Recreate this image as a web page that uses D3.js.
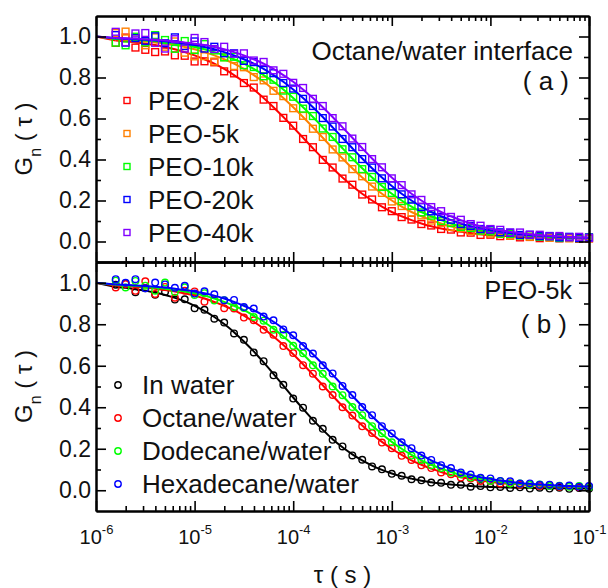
<!DOCTYPE html>
<html>
<head>
<meta charset="utf-8">
<script src="https://cdn.jsdelivr.net/npm/d3@7"></script>
<style>
  body { margin: 0; background: #fff; }
  svg { display: block; font-family: "Liberation Sans", Arial, sans-serif; }
</style>
</head>
<body>
<div id="main"></div>
<script>
// lag times, log10(tau / s)
const logTau = [-5.8, -5.7, -5.6, -5.5, -5.4, -5.3, -5.2, -5.1, -5.0, -4.9,
    -4.8, -4.7, -4.6, -4.5, -4.4, -4.3, -4.2, -4.1, -4.0, -3.9,
    -3.8, -3.7, -3.6, -3.5, -3.4, -3.3, -3.2, -3.1, -3.0, -2.9,
    -2.8, -2.7, -2.6, -2.5, -2.4, -2.3, -2.2, -2.1, -2.0, -1.9,
    -1.8, -1.7, -1.6, -1.5, -1.4, -1.3, -1.2, -1.1, -1.0];

const yTickLabels = ["0.0", "0.2", "0.4", "0.6", "0.8", "1.0"];
const xTickExps = [-6, -5, -4, -3, -2, -1];

// panel (a): octane/water interface
const peoLabels = ["PEO-2k", "PEO-5k", "PEO-10k", "PEO-20k", "PEO-40k"];

const peo2kData = [.969, .995, .946, .935, .924, .927, .908, .906, .878, .879,
    .874, .830, .820, .773, .751, .692, .661, .603, .565, .500,
    .460, .398, .361, .307, .277, .229, .205, .167, .148, .119,
    .107, .085, .078, .061, .058, .044, .043, .032, .033, .026,
    .028, .020, .022, .016, .020, .015, .019, .013, .016];
const peo2kFit = [.981, .977, .971, .965, .958, .949, .938, .924, .908, .889,
    .868, .842, .812, .779, .741, .700, .655, .607, .557, .506,
    .455, .405, .357, .312, .271, .233, .200, .170, .144, .123,
    .104, .088, .074, .063, .055, .047, .041, .035, .031, .028,
    .025, .022, .020, .019, .018, .017, .016, .015, .014];

const peo5kData = [1.017, 1.024, .991, .957, .996, .950, .976, .921, .903, .904,
    .878, .899, .856, .850, .802, .786, .735, .709, .650, .613,
    .550, .510, .449, .410, .353, .318, .268, .237, .195, .173,
    .141, .127, .102, .091, .071, .065, .051, .050, .039, .037,
    .028, .030, .023, .025, .018, .021, .015, .019, .014];
const peo5kFit = [.987, .984, .981, .977, .971, .965, .958, .949, .938, .924,
    .908, .889, .868, .842, .812, .779, .741, .700, .655, .607,
    .557, .506, .455, .405, .357, .312, .271, .233, .200, .170,
    .144, .123, .104, .088, .074, .063, .055, .047, .041, .035,
    .031, .028, .025, .022, .020, .019, .018, .017, .016];

const peo10kData = [.970, .957, .999, .971, 1.007, .983, .940, .978, .934, .963,
    .932, .898, .901, .860, .851, .806, .789, .736, .706, .648,
    .612, .551, .510, .450, .411, .353, .315, .266, .237, .197,
    .174, .142, .126, .100, .090, .071, .066, .053, .049, .038,
    .037, .029, .031, .023, .024, .017, .021, .016, .020];
const peo10kFit = [.990, .987, .984, .981, .977, .971, .965, .958, .949, .938,
    .924, .908, .889, .868, .842, .812, .779, .741, .700, .655,
    .607, .557, .506, .455, .405, .357, .312, .271, .233, .200,
    .170, .144, .123, .104, .088, .074, .063, .055, .047, .041,
    .035, .031, .028, .025, .022, .020, .019, .018, .017];

const peo20kData = [1.007, .970, .992, .979, 1.001, .967, .996, .953, .976, .941,
    .950, .918, .918, .881, .875, .837, .821, .773, .746, .696,
    .661, .602, .561, .500, .460, .402, .361, .308, .274, .230,
    .204, .168, .147, .120, .106, .085, .076, .061, .058, .045,
    .043, .032, .033, .026, .027, .020, .023, .017, .020];
const peo20kFit = [.992, .990, .987, .984, .981, .977, .971, .965, .958, .949,
    .938, .924, .908, .889, .868, .842, .812, .779, .741, .700,
    .655, .607, .557, .506, .455, .405, .357, .312, .271, .233,
    .200, .170, .144, .123, .104, .088, .074, .063, .055, .047,
    .041, .035, .031, .028, .025, .022, .020, .019, .018];

const peo40kData = [1.023, .972, 1.015, 1.017, .969, .941, .987, .941, .993, .973,
    .939, .950, .916, .918, .883, .876, .835, .818, .774, .749,
    .696, .661, .602, .562, .502, .461, .402, .362, .308, .275,
    .230, .203, .168, .148, .120, .106, .085, .077, .061, .057,
    .044, .044, .033, .033, .025, .027, .020, .023, .017];
const peo40kFit = [.993, .992, .990, .987, .984, .981, .977, .971, .965, .958,
    .949, .938, .924, .908, .889, .868, .842, .812, .779, .741,
    .700, .655, .607, .557, .506, .455, .405, .357, .312, .271,
    .233, .200, .170, .144, .123, .104, .088, .074, .063, .055,
    .047, .041, .035, .031, .028, .025, .022, .020, .019];

// panel (b): PEO-5k in different environments
const mediumLabels = ["In water", "Octane/water", "Dodecane/water", "Hexadecane/water"];

const waterData = [.990, .996, .954, .974, .942, .956, .919, .920, .877, .870,
    .827, .808, .756, .725, .664, .622, .554, .508, .442, .398,
    .335, .296, .243, .211, .168, .147, .115, .101, .079, .070,
    .053, .048, .037, .036, .026, .026, .017, .020, .014, .016,
    .011, .014, .008, .012, .008, .012, .007, .011, .007];
const waterFit = [.980, .976, .969, .962, .952, .941, .927, .910, .889, .864,
    .835, .801, .762, .717, .669, .616, .561, .504, .447, .392,
    .339, .291, .246, .207, .173, .144, .119, .098, .081, .067,
    .056, .046, .039, .033, .028, .024, .020, .018, .016, .014,
    .013, .012, .011, .010, .010, .010, .009, .009, .009];

const octaneData = [.977, .994, .961, 1.007, .946, .980, .928, .961, .958, .909,
    .918, .877, .876, .832, .819, .773, .749, .695, .661, .603,
    .562, .500, .459, .400, .360, .308, .276, .230, .203, .166,
    .146, .120, .107, .086, .077, .061, .057, .044, .043, .033,
    .034, .026, .027, .020, .023, .017, .020, .015, .018];
const octaneFit = peo5kFit;

const dodecaneData = [1.010, .977, 1.009, .986, .962, 1.001, .955, .978, .941, .950,
    .914, .916, .883, .878, .835, .817, .773, .748, .696, .660,
    .602, .561, .500, .458, .401, .362, .309, .275, .231, .203,
    .167, .146, .121, .107, .086, .077, .061, .057, .044, .043,
    .033, .033, .026, .028, .020, .022, .017, .021, .015];
const dodecaneFit = peo10kFit;

const hexadecaneData = [1.017, 1.000, 1.017, .974, 1.001, .992, .976, .985, .948, .959,
    .944, .916, .917, .883, .876, .837, .819, .775, .747, .695,
    .659, .602, .563, .503, .459, .401, .362, .309, .274, .231,
    .203, .167, .146, .121, .107, .086, .076, .060, .057, .045,
    .043, .032, .033, .026, .027, .020, .023, .017, .020];
const hexadecaneFit = peo20kFit;

const peoColors = ["#ff0000", "#ff8000", "#00ff00", "#0000ff", "#8000ff"];
const mediumColors = ["#000000", "#ff0000", "#00ff00", "#0000ff"];

class FcsChart {
    constructor({ width = 608, height = 588 } = {}) {
        this.w = width;
        this.h = height;
        this.x0 = 96;
        this.x1 = 589;
        this.panels = [{ top: 16, bottom: 262 }, { top: 262, bottom: 511 }];
        this.svg = null;
    }

    createSvg(selector) {
        this.svg = d3.select(selector)
            .append("svg")
            .attr("width", this.w)
            .attr("height", this.h);
        this.xScale = d3.scaleLog()
            .domain([1e-6, 1e-1])
            .range([this.x0, this.x1]);
        this.xMajor = xTickExps.map(e => Math.pow(10, e));
        this.xMinor = [];
        xTickExps.slice(0, -1).forEach(e => {
            for (let m = 2; m <= 9; m++) this.xMinor.push(m * Math.pow(10, e));
        });
        this.tau = logTau.map(l => Math.pow(10, l));
    }

    yScaleFor(p) {
        return d3.scaleLinear().domain([-0.1, 1.1]).range([p.bottom, p.top]);
    }

    drawFrame(p, y, isBottom) {
        const svg = this.svg;
        const yMajor = yTickLabels.map(Number);
        const yMinor = [0.1, 0.3, 0.5, 0.7, 0.9];
        const styleAxis = g => {
            g.selectAll("path.domain").attr("stroke-width", 2);
            g.selectAll(".tick line").attr("stroke-width", 1.6);
        };

        // left
        svg.append("g")
            .attr("transform", `translate(${this.x0},0)`)
            .call(d3.axisLeft(y).tickValues(yMajor).tickSize(-10).tickSizeOuter(0).tickPadding(5)
                .tickFormat((d, i) => yTickLabels[i]))
            .call(styleAxis)
            .selectAll("text").style("font-size", "23px").attr("fill", "#111");
        svg.append("g")
            .attr("transform", `translate(${this.x0},0)`)
            .call(d3.axisLeft(y).tickValues(yMinor).tickSize(-5).tickSizeOuter(0).tickFormat(""))
            .call(styleAxis);

        // right
        [yMajor, yMinor].forEach((vals, k) => {
            svg.append("g")
                .attr("transform", `translate(${this.x1},0)`)
                .call(d3.axisRight(y).tickValues(vals).tickSize(k ? -5 : -10).tickSizeOuter(0).tickFormat(""))
                .call(styleAxis);
        });

        // top
        [this.xMajor, this.xMinor].forEach((vals, k) => {
            svg.append("g")
                .attr("transform", `translate(0,${p.top})`)
                .call(d3.axisTop(this.xScale).tickValues(vals).tickSize(k ? -5 : -10).tickSizeOuter(0).tickFormat(""))
                .call(styleAxis);
        });

        // bottom
        svg.append("g")
            .attr("transform", `translate(0,${p.bottom})`)
            .call(d3.axisBottom(this.xScale).tickValues(this.xMinor).tickSize(-5).tickSizeOuter(0).tickFormat(""))
            .call(styleAxis);
        const xb = svg.append("g")
            .attr("transform", `translate(0,${p.bottom})`)
            .call(d3.axisBottom(this.xScale).tickValues(this.xMajor).tickSize(-10).tickSizeOuter(0).tickPadding(19))
            .call(styleAxis);
        if (isBottom) {
            xb.selectAll(".tick text").each(function (d, i) {
                const t = d3.select(this).text(null).style("font-size", "20px").attr("fill", "#111");
                t.append("tspan").text("10");
                t.append("tspan").attr("dy", -10).style("font-size", "13px").text(String(xTickExps[i]));
            });
        } else {
            xb.selectAll(".tick text").remove();
        }

        // y label
        const yl = svg.append("text")
            .attr("transform", `translate(32,${(p.top + p.bottom) / 2}) rotate(-90)`)
            .attr("text-anchor", "middle")
            .style("font-size", "24px")
            .attr("fill", "#111");
        yl.append("tspan").text("G");
        yl.append("tspan").attr("dy", 9).style("font-size", "16px").text("n");
        yl.append("tspan").attr("dy", -9).text(" ( \u03c4 )");
    }

    drawSeries(y, data, fit, color, shape) {
        const g = this.svg.append("g");
        const pts = data.map((v, i) => [this.xScale(this.tau[i]), y(v)]);
        if (shape === "square") {
            g.selectAll("rect")
                .data(pts)
                .join("rect")
                .attr("x", d => d[0] - 3.4)
                .attr("y", d => d[1] - 3.4)
                .attr("width", 6.8)
                .attr("height", 6.8)
                .attr("fill", "none")
                .attr("stroke", color)
                .attr("stroke-width", 1.4);
        } else {
            g.selectAll("circle")
                .data(pts)
                .join("circle")
                .attr("cx", d => d[0])
                .attr("cy", d => d[1])
                .attr("r", 3.3)
                .attr("fill", "none")
                .attr("stroke", color)
                .attr("stroke-width", 1.4);
        }
        const line = d3.line()
            .x((d, i) => this.xScale(this.tau[i]))
            .y(d => y(d))
            .curve(d3.curveMonotoneX);
        g.append("path")
            .attr("d", line(fit))
            .attr("fill", "none")
            .attr("stroke", color)
            .attr("stroke-width", 2);
        // fit starts at the left edge (tau = 1e-6)
        g.append("line")
            .attr("x1", this.x0).attr("x2", this.xScale(this.tau[0]))
            .attr("y1", y(1.0)).attr("y2", y(fit[0]))
            .attr("stroke", color)
            .attr("stroke-width", 2);
    }

    drawLegend(labels, colors, shape, x, yTop, step, textX) {
        labels.forEach((lab, i) => {
            const yy = yTop + i * step;
            if (shape === "square") {
                this.svg.append("rect")
                    .attr("x", x - 3).attr("y", yy - 3)
                    .attr("width", 6).attr("height", 6)
                    .attr("fill", "none").attr("stroke", colors[i]).attr("stroke-width", 1.4);
            } else {
                this.svg.append("circle")
                    .attr("cx", x).attr("cy", yy).attr("r", 3.2)
                    .attr("fill", "none").attr("stroke", colors[i]).attr("stroke-width", 1.4);
            }
            this.svg.append("text")
                .attr("x", textX).attr("y", yy + 9)
                .style("font-size", "26px")
                .attr("fill", "#111")
                .text(lab);
        });
    }

    note(text, x, y, size) {
        this.svg.append("text")
            .attr("x", x).attr("y", y)
            .attr("text-anchor", "end")
            .style("font-size", size + "px")
            .attr("fill", "#111")
            .text(text);
    }

    drawChart() {
        const [pa, pb] = this.panels;
        const ya = this.yScaleFor(pa);
        const yb = this.yScaleFor(pb);

        // panel (a)
        const aData = [peo2kData, peo5kData, peo10kData, peo20kData, peo40kData];
        const aFit = [peo2kFit, peo5kFit, peo10kFit, peo20kFit, peo40kFit];
        aData.forEach((d, i) => this.drawSeries(ya, d, aFit[i], peoColors[i], "square"));

        // panel (b)
        const bData = [waterData, octaneData, dodecaneData, hexadecaneData];
        const bFit = [waterFit, octaneFit, dodecaneFit, hexadecaneFit];
        bData.forEach((d, i) => this.drawSeries(yb, d, bFit[i], mediumColors[i], "circle"));

        this.drawFrame(pa, ya, false);
        this.drawFrame(pb, yb, true);

        this.drawLegend(peoLabels, peoColors, "square", 127, 100.5, 33, 148);
        this.drawLegend(mediumLabels, mediumColors, "circle", 118, 385, 33, 142);

        this.note("Octane/water interface", 573, 60, 26);
        this.note("( a )", 569, 90, 26);
        this.note("PEO-5k", 572, 299, 25);
        this.note("( b )", 567, 333, 26);

        this.svg.append("text")
            .attr("x", (this.x0 + this.x1) / 2)
            .attr("y", 583)
            .attr("text-anchor", "middle")
            .style("font-size", "24px")
            .attr("fill", "#111")
            .text("\u03c4 ( s )");
    }

    run(selector) {
        this.createSvg(selector);
        this.drawChart();
    }
}

window.onload = () => {
    const chart = new FcsChart({ width: 608, height: 588 });
    chart.run("#main");
};
</script>
</body>
</html>
